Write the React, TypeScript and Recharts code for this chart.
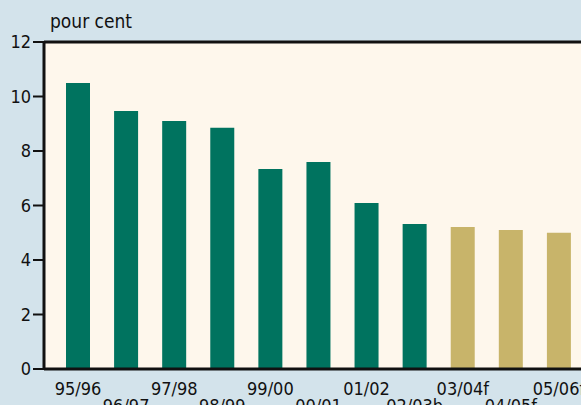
import { BarChart, Bar, XAxis, YAxis, CartesianGrid, Cell, ReferenceLine } from "recharts";

const years = ["95/96", "96/97", "97/98", "98/99", "99/00", "00/01", "01/02", "02/03b", "03/04f", "04/05f", "05/06f"];
const values = [10.5, 9.47, 9.1, 8.85, 7.34, 7.6, 6.09, 5.32, 5.21, 5.1, 5.0];
const forecast = [false, false, false, false, false, false, false, false, true, true, true];
const yTicks = [0, 2, 4, 6, 8, 10, 12];

const FONT = "'Liberation Sans Narrow', 'DejaVu Sans Condensed', 'Liberation Sans', sans-serif";

const data = years.map((year, i) => ({ year, value: values[i], forecast: forecast[i] }));

// labels alternate between two rows so they don't collide
function StaggeredTick(props: any) {
  const { x, y, payload, index } = props;
  const dy = index % 2 === 0 ? 18 : 35;
  return (
    <text x={x} y={y + dy} textAnchor="middle" fontSize={18} fontFamily={FONT} fill="#111">
      {payload.value}
    </text>
  );
}

export default function App() {
  return (
    <div style={{ position: "absolute", left: 0, top: 0, width: 581, height: 405, overflow: "hidden", background: "#d3e3eb" }}>
      <div style={{ position: "absolute", left: 50, top: 10, fontFamily: FONT, fontSize: 19, color: "#111" }}>
        pour cent
      </div>
      <BarChart width={583} height={405} data={data} margin={{ top: 42, right: 0, left: 0, bottom: 0 }}>
        <CartesianGrid horizontal={false} vertical={false} fill="#fef7ec" />
        <XAxis
          dataKey="year"
          height={36}
          padding={{ left: 10, right: 0 }}
          tickLine={false}
          axisLine={{ stroke: "#111", strokeWidth: 3 }}
          tick={<StaggeredTick />}
          interval={0}
        />
        <YAxis
          width={44}
          domain={[0, 12]}
          ticks={yTicks}
          tickSize={11}
          tickLine={{ stroke: "#111", strokeWidth: 2 }}
          axisLine={{ stroke: "#111", strokeWidth: 3 }}
          tick={{ fontSize: 18, fontFamily: FONT, fill: "#111" }}
        />
        <ReferenceLine y={12} stroke="#111" strokeWidth={3} />
        <Bar dataKey="value" barSize={24} isAnimationActive={false}>
          {data.map((d, i) => (
            <Cell key={i} fill={d.forecast ? "#c8b46a" : "#00735f"} />
          ))}
        </Bar>
      </BarChart>
    </div>
  );
}
